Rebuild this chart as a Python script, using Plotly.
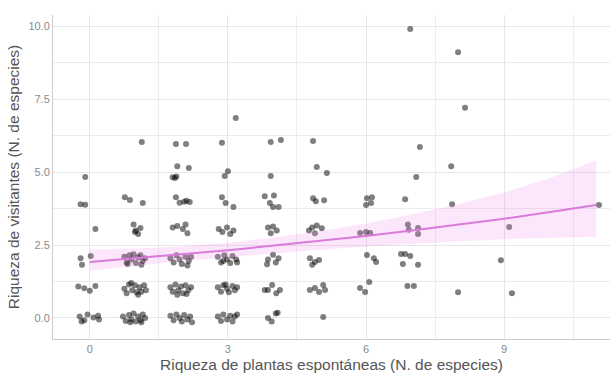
import plotly.graph_objects as go

# Jittered observations: plant richness (x) vs visitor richness (y)
plantas = [
    # x=0
    -0.22, -0.12, -0.05, 0.08, 0.18, 0.2, -0.18,
    -0.25, -0.12, 0.0, 0.12,
    -0.2, -0.17, 0.02,
    0.12,
    -0.2, -0.1,
    -0.1,
    # x=1
    0.72, 0.78, 0.85, 0.9, 0.95, 1.0, 1.05, 1.1, 1.15, 1.2, 0.88, 1.12,
    0.75, 0.8, 0.85, 0.92, 0.98, 1.02, 1.08, 1.12, 1.18, 1.22, 0.9, 1.05,
    0.75, 0.8, 0.86, 0.9, 0.95, 1.0, 1.05, 1.1, 1.15, 1.2, 1.12, 0.82,
    0.95, 1.0, 1.05, 1.1, 0.98,
    0.76, 0.87, 1.15,
    1.13,
    # x=2
    1.75, 1.82, 1.88, 1.95, 2.0, 2.05, 2.12, 2.18, 2.22,
    1.75, 1.8, 1.86, 1.92, 1.98, 2.02, 2.08, 2.14, 2.2, 1.9, 2.1,
    1.75, 1.82, 1.88, 1.95, 2.0, 2.08, 2.15, 2.2, 2.12,
    1.8, 1.9, 2.02, 2.12, 2.08,
    1.87, 1.95, 2.05, 2.1, 2.17,
    1.8, 1.85, 1.9, 2.15, 1.88,
    1.87, 2.09,
    # x=3
    2.78, 2.85, 2.9, 2.98, 3.05, 3.1, 3.15, 3.2,
    2.78, 2.85, 2.9, 2.98, 3.02, 3.1, 3.15, 3.2, 2.95,
    2.78, 2.85, 2.92, 2.98, 3.05, 3.1, 3.18, 3.2, 2.9,
    2.8, 2.88, 2.98, 3.05, 3.12,
    2.87, 2.95, 3.12,
    3.0, 2.93,
    2.87,
    3.17,
    # x=4
    3.87, 3.95, 4.04, 4.08,
    3.8, 3.87, 3.96, 4.13, 4.05,
    3.87, 3.98, 4.04, 3.85, 4.1,
    3.87, 3.98, 4.06, 3.93,
    3.8, 4.0, 3.91, 3.98, 4.1,
    3.93,
    3.93, 4.15,
    # x=5
    5.07,
    4.78, 4.89, 4.98, 5.11, 5.07,
    4.78, 4.89, 4.98, 4.83,
    4.83, 4.93, 5.04, 4.76, 4.89,
    4.85, 4.91, 5.09,
    4.93, 5.15,
    4.85,
    # x=6
    5.87, 5.98, 6.07,
    6.02, 6.17, 6.22,
    5.87, 6.0, 6.09,
    6.02, 6.11, 6.0, 6.13,
    # x=7
    6.9, 7.04,
    6.76, 6.85, 6.96, 6.8, 7.13,
    6.91, 6.93, 7.13, 7.13,
    6.85, 7.09, 7.17, 6.96,
    # x=8
    8.0, 7.87, 7.85, 8.15, 8.0,
    # x=9
    9.17, 8.93, 9.11,
    # x=11
    11.06,
]

visitantes = [
    # x=0
    0.05, -0.08, 0.12, 0.02, 0.08, -0.05, -0.12,
    1.08, 1.02, 0.93, 1.1,
    2.05, 1.82, 2.12,
    3.05,
    3.9, 3.88,
    4.83,
    # x=1
    0.05, -0.1, 0.1, -0.05, 0.15, -0.12, 0.05, -0.08, 0.12, 0.0, -0.15, -0.15,
    1.0, 0.85, 1.15, 0.95, 1.12, 0.88, 1.05, 0.9, 1.12, 0.95, 1.2, 0.8,
    2.1, 1.9, 2.15, 2.0, 2.18, 1.88, 2.08, 2.15, 1.95, 2.05, 1.82, 1.85,
    3.2, 3.0, 2.88, 3.08, 2.95,
    4.14, 4.04, 3.94,
    6.03,
    # x=2
    0.08, -0.08, 0.12, 0.0, -0.12, 0.1, -0.05, 0.05, -0.15,
    1.05, 0.9, 1.15, 0.95, 1.08, 0.85, 1.12, 0.95, 1.05, 0.8, 0.82,
    2.05, 1.9, 2.15, 2.0, 1.85, 2.1, 1.95, 2.1, 1.8,
    3.1, 3.15, 3.05, 2.9, 3.2,
    4.14, 3.95, 3.98, 4.02, 3.97,
    4.82, 4.8, 5.2, 5.14, 4.85,
    5.96, 5.96,
    # x=3
    0.05, -0.1, 0.12, -0.05, 0.08, -0.12, 0.05, 0.12,
    1.05, 0.9, 1.12, 1.0, 0.88, 1.1, 0.95, 1.05, 1.15,
    2.1, 1.9, 2.15, 2.0, 1.88, 2.12, 2.0, 1.9, 1.95,
    3.05, 2.95, 3.1, 2.88, 3.0,
    4.14, 3.94, 3.8,
    5.03, 4.86,
    6.0,
    6.85,
    # x=4
    0.0, -0.12, 0.15, 0.18,
    0.96, 0.96, 1.13, 0.96, 0.85,
    2.0, 2.17, 1.9, 1.84, 2.05,
    3.1, 3.13, 3.0, 2.9,
    4.17, 4.2, 3.94, 3.8, 3.8,
    4.86,
    6.03, 6.1,
    # x=5
    0.03,
    0.96, 1.03, 0.89, 0.96, 1.13,
    2.05, 1.92, 1.99, 1.82,
    3.1, 3.17, 3.07, 3.0, 2.9,
    4.1, 4.0, 4.03,
    5.17, 4.97,
    6.06,
    # x=6
    1.03, 0.89, 1.23,
    2.16, 2.05, 1.92,
    2.91, 2.95, 2.91,
    4.1, 3.94, 3.87, 4.14,
    # x=7
    1.1, 1.1,
    2.19, 2.19, 2.12, 1.85, 1.82,
    3.2, 3.02, 3.08, 2.88,
    4.07, 4.83, 5.86, 9.9,
    # x=8
    0.88, 3.9, 5.2, 7.2, 9.1,
    # x=9
    0.85, 1.98, 3.12,
    # x=11
    3.87,
]

# Fitted trend with its confidence band
ajuste_x = [0, 1, 2, 3, 4, 5, 6, 7, 8, 9, 10, 11]
ajuste_y = [1.92, 2.05, 2.18, 2.32, 2.48, 2.64, 2.81, 3.0, 3.19, 3.40, 3.63, 3.87]
banda_inf = [1.62, 1.79, 1.95, 2.08, 2.22, 2.34, 2.45, 2.55, 2.63, 2.70, 2.75, 2.78]
banda_sup = [2.35, 2.38, 2.45, 2.58, 2.76, 2.98, 3.24, 3.55, 3.90, 4.30, 4.80, 5.40]

x_ticks = [0, 3, 6, 9]
y_ticks = [0, 2.5, 5, 7.5, 10]
y_labels = ["0.0", "2.5", "5.0", "7.5", "10.0"]

fig = go.Figure()
fig.add_trace(go.Scatter(
    x=plantas, y=visitantes, mode="markers",
    marker=dict(size=6, color="rgba(0,0,0,0.5)", line=dict(width=0)),
    hoverinfo="skip", showlegend=False))
fig.add_trace(go.Scatter(
    x=ajuste_x, y=banda_inf, mode="lines", line=dict(width=0),
    hoverinfo="skip", showlegend=False))
fig.add_trace(go.Scatter(
    x=ajuste_x, y=banda_sup, mode="lines", line=dict(width=0),
    fill="tonexty", fillcolor="rgba(238,130,238,0.2)",
    hoverinfo="skip", showlegend=False))
fig.add_trace(go.Scatter(
    x=ajuste_x, y=ajuste_y, mode="lines",
    line=dict(color="#D87BDA", width=2),
    hoverinfo="skip", showlegend=False))

axis_font = dict(family="Liberation Sans, Arial, sans-serif", size=11, color="#8a8a8a")
title_font = dict(family="Liberation Sans, Arial, sans-serif", size=15.5, color="#555555")

fig.update_layout(
    width=616, height=376,
    margin=dict(l=53, r=6, t=15, b=37),
    paper_bgcolor="white", plot_bgcolor="white",
    showlegend=False,
    xaxis=dict(
        range=[-0.8, 11.3], tickvals=x_ticks, ticktext=[str(v) for v in x_ticks],
        showgrid=True, gridcolor="#E6E6E6", gridwidth=1,
        minor=dict(tickvals=[1.5, 4.5, 7.5, 10.5], showgrid=True, gridcolor="#ECECEC", gridwidth=1),
        zeroline=False, showline=True, linecolor="#CCCCCC", linewidth=1,
        ticks="", tickfont=axis_font,
        title=dict(text="Riqueza de plantas espontáneas (N. de especies)", font=title_font, standoff=4),
    ),
    yaxis=dict(
        range=[-0.72, 10.38], tickvals=y_ticks, ticktext=y_labels,
        showgrid=True, gridcolor="#E6E6E6", gridwidth=1,
        minor=dict(tickvals=[1.25, 3.75, 6.25, 8.75], showgrid=True, gridcolor="#ECECEC", gridwidth=1),
        zeroline=False, showline=True, linecolor="#CCCCCC", linewidth=1,
        ticks="", tickfont=axis_font,
        title=dict(text="Riqueza de visitantes (N. de especies)", font=title_font, standoff=4),
    ),
)

fig.write_html("out.html")
